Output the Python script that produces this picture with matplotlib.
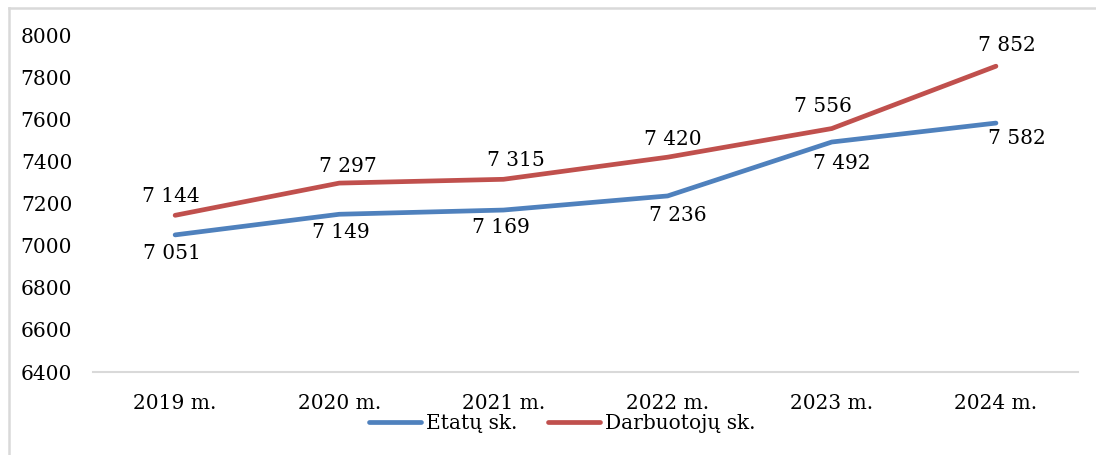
import matplotlib
matplotlib.use("Agg")
import matplotlib.pyplot as plt
from matplotlib.lines import Line2D
import numpy as np

years = ["2019 m.", "2020 m.", "2021 m.", "2022 m.", "2023 m.", "2024 m."]
etatu = [7051, 7149, 7169, 7236, 7492, 7582]
darbuotoju = [7144, 7297, 7315, 7420, 7556, 7852]
series_names = ["Etatų sk.", "Darbuotojų sk."]

blue = "#4F81BD"
red = "#C0504D"
grey = "#D9D9D9"

# label nudges in pixels (dx, dy), as placed in the original chart
red_off = [(-4, 19), (9, 17), (12, 19), (5, 18), (-9, 22), (11, 21)]
blue_off = [(-3, -19), (2, -18), (-3, -17), (10, -20), (10, -21), (21, -15)]

plt.rcParams["font.family"] = ["DejaVu Serif"]
fs = 14.5

fig = plt.figure(figsize=(10.96, 4.55), dpi=100)
ax = fig.add_axes([0.0849, 0.1824, 0.8987, 0.7406])

x = np.arange(len(years))
ax.plot(x, etatu, color=blue, lw=3.4, solid_capstyle="round", solid_joinstyle="round")
ax.plot(x, darbuotoju, color=red, lw=3.4, solid_capstyle="round", solid_joinstyle="round")

for vals, offs in [(darbuotoju, red_off), (etatu, blue_off)]:
    for i, v in enumerate(vals):
        dx, dy = offs[i]
        ax.annotate(f"{v:,}".replace(",", " "), (x[i], v), xytext=(dx * 0.72, dy * 0.72),
                    textcoords="offset points", ha="center", va="center", fontsize=fs)

ax.set_xlim(-0.5, len(years) - 0.5)
ax.set_ylim(6400, 8000)
ax.set_yticks(np.arange(6400, 8001, 200))
ax.set_xticks(x)
ax.set_xticklabels(years)
ax.tick_params(axis="both", length=0, labelsize=fs)
ax.tick_params(axis="y", pad=15)
ax.tick_params(axis="x", pad=16)
for s in ["top", "right", "left"]:
    ax.spines[s].set_visible(False)
ax.spines["bottom"].set_color(grey)
ax.spines["bottom"].set_linewidth(1.5)

handles = [Line2D([], [], color=blue, lw=3.4, solid_capstyle="round"),
           Line2D([], [], color=red, lw=3.4, solid_capstyle="round")]
fig.legend(handles, series_names, loc="center", bbox_to_anchor=(0.513, 0.07),
           ncol=2, frameon=False, fontsize=fs, handlelength=2.6,
           handletextpad=0.25, columnspacing=1.5, borderpad=0)

# outer chart border: only left and top edges fall inside the image
bx, by = 9 / 1096, 1 - 8 / 455
fig.add_artist(Line2D([bx, bx], [0, by], transform=fig.transFigure, color=grey, lw=1.8))
fig.add_artist(Line2D([bx, 1], [by, by], transform=fig.transFigure, color=grey, lw=1.8))

fig.savefig("out.png", dpi=100)
